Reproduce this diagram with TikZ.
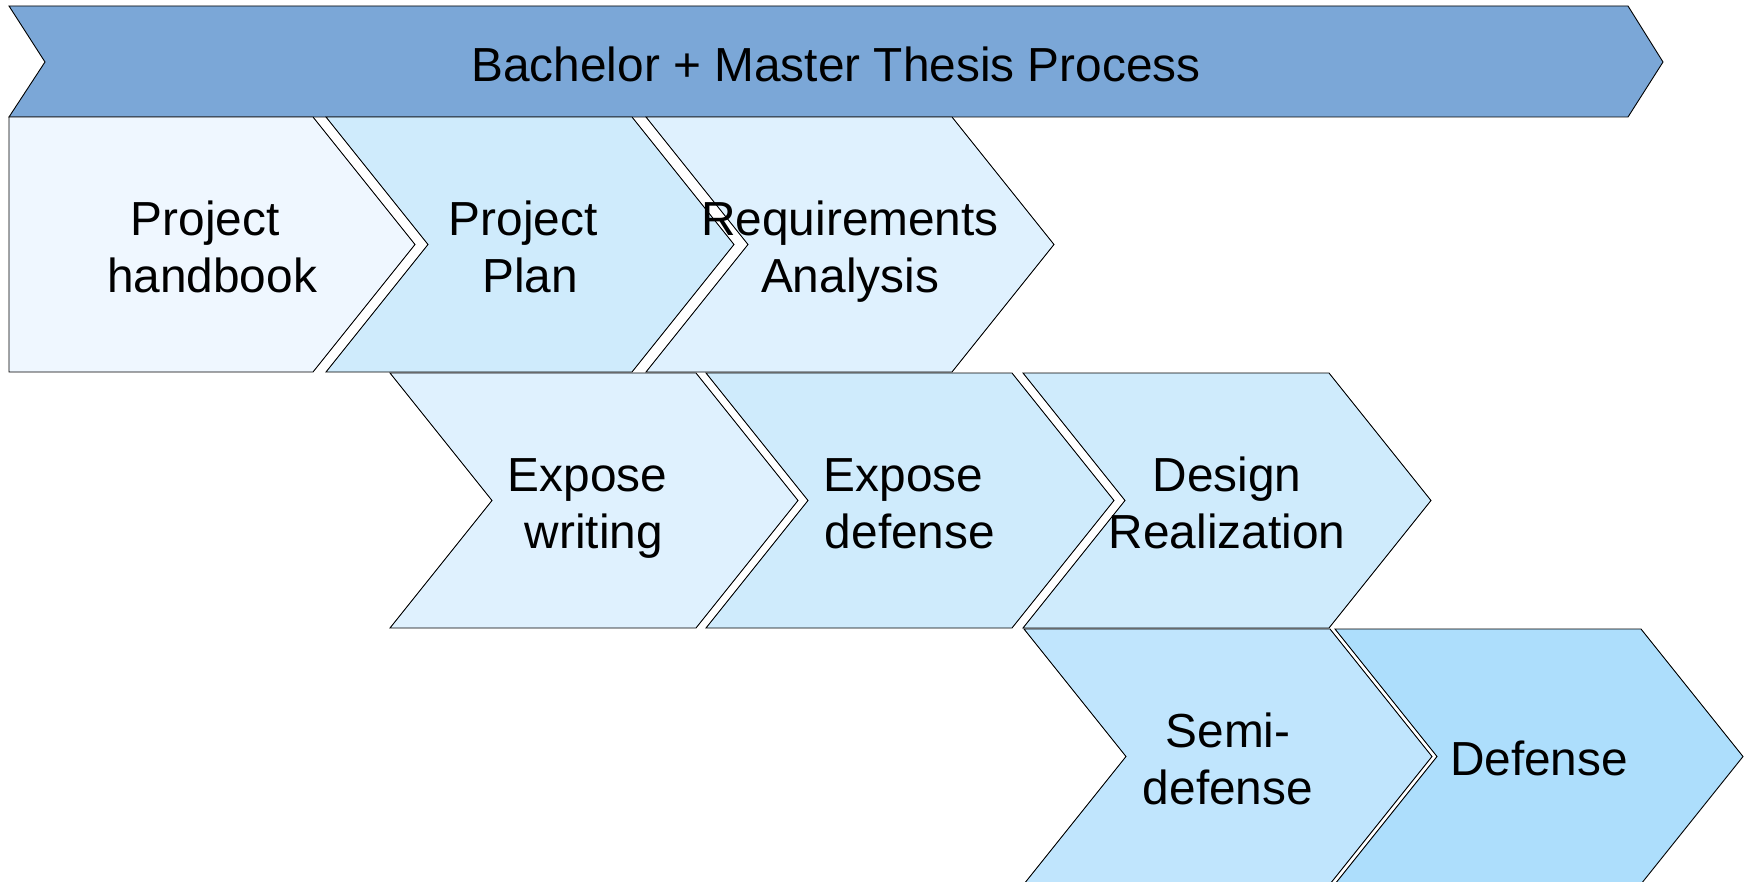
\documentclass[tikz,border=0pt]{standalone}
\usepackage{fontspec}
\setmainfont{Liberation Sans}
\definecolor{bannerfill}{HTML}{7BA7D7}
\definecolor{cA}{HTML}{EFF7FF}
\definecolor{cB}{HTML}{CFEBFC}
\definecolor{cC}{HTML}{DFF1FE}
\definecolor{cD}{HTML}{C0E5FD}
\definecolor{cE}{HTML}{ADDEFC}
\tikzset{
  shapeline/.style={draw=black, line width=0.9pt, line join=miter},
  steptext/.style={align=center, font=\fontsize{47.8}{56.5}\selectfont, inner sep=0pt},
}
\newcommand{\tsp}{\kern0.278em}
% chevron: #1 name, #2 x0, #3 y0 (top), #4 fill, #5 text, #6 notch depth
\newcommand{\mychev}[6]{%
  \path[shapeline, fill=#4] (#2,#3) -- ++(306,0) -- ++(102,127.5) -- ++(-102,127.5)
     -- ++(-306,0) -- ++(#6,-127.5) -- cycle;
  \node[steptext] (#1) at ({#2+204},{#3+127.5+8}) {#5};
}
\begin{document}
\begin{tikzpicture}[x=1pt,y=-1pt]
\useasboundingbox (0,0) rectangle (1750,882);
\clip (0,0) rectangle (1750,882);
% banner
\path[shapeline, fill=bannerfill] (9,6) -- (1628,6) -- (1663,62) -- (1628,117) -- (9,117) -- (45,62) -- cycle;
\node[steptext] (banner) at (836,70.5) {\strut Bachelor + Master Thesis Process};
% row 1
\path[shapeline, fill=cA] (9,117) -- (313,117) -- (415,244.5) -- (313,372) -- (9,372) -- cycle;
\node[steptext] (handbook) at (212,252.5) {\strut Project\tsp\\\strut handbook};
\mychev{plan}{326}{117}{cB}{\strut Project\tsp\\\strut Plan}{102}
\mychev{req}{646}{117}{cC}{\strut Requirements\\\strut Analysis}{102}
% row 2
\mychev{exwrite}{390}{373}{cC}{\strut Expose\tsp\\\strut writing}{102}
\mychev{exdef}{706}{373}{cB}{\strut Expose\tsp\\\strut defense}{102}
\mychev{design}{1023}{373}{cB}{\strut Design\\\strut Realization}{102}
% row 3
\mychev{semi}{1024}{629}{cD}{\strut Semi-\\\strut defense}{102}
\mychev{defense}{1335}{629}{cE}{\strut Defense}{102}
\end{tikzpicture}
\end{document}
